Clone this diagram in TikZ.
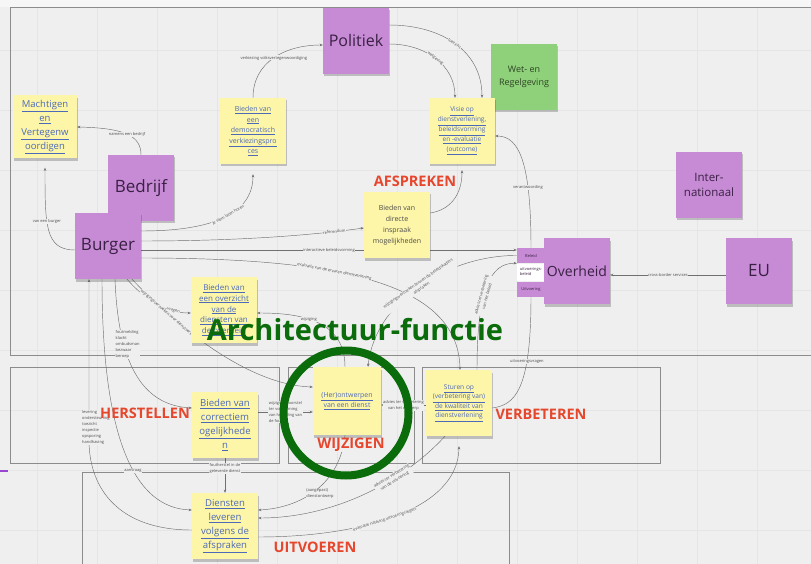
\documentclass[tikz,border=0pt]{standalone}
\usepackage{fontspec}
\setmainfont{Open Sans}
\usetikzlibrary{shadows,arrows.meta}

\definecolor{bgc}{HTML}{EFEFEF}
\definecolor{topc}{HTML}{F6F6F6}
\definecolor{gridc}{HTML}{E5E5E5}
\definecolor{boxc}{HTML}{8C8C8C}
\definecolor{yel}{HTML}{FDF5A8}
\definecolor{purp}{HTML}{C78BD5}
\definecolor{grn}{HTML}{8FD07B}
\definecolor{lnk}{HTML}{4C6AB8}
\definecolor{redl}{HTML}{E6462C}
\definecolor{dgreen}{HTML}{0A6C0A}
\definecolor{edgec}{HTML}{707070}
\definecolor{darkp}{HTML}{3A2044}
\definecolor{darkg}{HTML}{2E4424}
\definecolor{violet}{HTML}{9A45D0}

\newcommand\ulink[1]{\underline{#1}}

\pgfdeclarelayer{bg}
\pgfdeclarelayer{edges}
\pgfsetlayers{bg,edges,main}

\tikzset{
  sticky/.style={minimum width=66pt, minimum height=66pt, inner sep=1pt, align=center,
    drop shadow={shadow xshift=0.5pt, shadow yshift=-2.5pt, opacity=0.3, fill=black!70}},
  ynote/.style={sticky, fill=yel},
  lnote/.style={ynote, text=lnk},
  pnote/.style={sticky, fill=purp, text=darkp},
  tab/.style={minimum width=28pt, minimum height=15pt, inner sep=0pt,
    font=\fontsize{4}{5}\selectfont, text=darkp},
  conn/.style={draw=edgec, line width=0.45pt, -{Stealth[length=3.2pt,width=2.6pt]}},
  plainconn/.style={draw=edgec, line width=0.45pt},
  lbl/.style={font=\fontsize{4}{6}\selectfont, text=black!70, fill=bgc, inner sep=0.5pt},
  phasel/.style={font=\fontsize{14.5}{16}\selectfont\bfseries, text=redl, inner sep=0pt},
  boxline/.style={draw=boxc, line width=0.5pt}
}

\begin{document}
\begin{tikzpicture}[x=1pt,y=-1pt]
\useasboundingbox (0,0) rectangle (811,564);

% canvas, grid and phase frames
\begin{pgfonlayer}{bg}
  \fill[bgc] (0,0) rectangle (811,564);
  \fill[topc] (0,0) rectangle (811,7);
  \foreach \gx in {37,97,...,811} \draw[gridc, line width=0.5pt] (\gx,7) -- (\gx,564);
  \foreach \gy in {50,110,...,564} \draw[gridc, line width=0.5pt] (0,\gy) -- (811,\gy);
  \draw[boxline] (815,7) -- (10,7) -- (10,355) -- (815,355);
  \draw[boxline] (10,367) rectangle (279,463);
  \draw[boxline] (288,367) rectangle (414,463);
  \draw[boxline] (422,367) rectangle (660,463);
  \draw[boxline] (82,472) rectangle (509,570);
  \draw[violet, line width=1.2pt] (0,471) -- (8,471);
\end{pgfonlayer}

% actors
\node[pnote, font=\fontsize{16}{18}\selectfont] (pol) at (356,41) {Politiek};
\node[sticky, fill=grn, text=darkg, font=\fontsize{9}{12.5}\selectfont] (wet) at (524,77) {Wet- en\\Regelgeving};
\node[pnote, font=\fontsize{11.5}{14.5}\selectfont] (intl) at (709,185) {Inter-\\nationaal};
\node[tab, fill=purp] (bel) at (531,255.5) {Beleid};
\node[tab, fill=white, minimum height=17pt, align=left] (ub) at (531,272) {uitvoerings-\\beleid};
\node[tab, fill=purp] (uitv) at (531,289.5) {Uitvoering};
\node[pnote, font=\fontsize{14}{18}\selectfont] (ovh) at (577,271) {Overheid};
\node[pnote, font=\fontsize{17}{18}\selectfont] (eu) at (759,271) {EU};
\node[pnote, font=\fontsize{17}{18}\selectfont] (bedr) at (141,188) {Bedrijf};
\node[pnote, font=\fontsize{17}{18}\selectfont] (burg) at (108,246) {Burger};

% functions
\node[lnote, minimum width=64pt, minimum height=63pt, font=\fontsize{9.5}{14}\selectfont] (macht) at (45,127)
  {\ulink{Machtigen}\\\ulink{en}\\\ulink{Vertegenw}\\\ulink{oordigen}};
\node[lnote, font=\fontsize{7}{10.5}\selectfont] (demo) at (253,131)
  {\ulink{Bieden van}\\\ulink{een}\\\ulink{democratisch}\\\ulink{verkiezingspro}\\\ulink{ces}};
\node[lnote, font=\fontsize{6.5}{10}\selectfont] (visie) at (462,131)
  {\ulink{Visie op}\\\ulink{dienstverlening,}\\\ulink{beleidsvorming}\\\ulink{en -evaluatie}\\\ulink{(outcome)}};
\node[ynote, text=black!70, font=\fontsize{7}{11}\selectfont] (insp) at (397,225)
  {Bieden van\\directe\\inspraak\\mogelijkheden};
\node[lnote, font=\fontsize{8}{10.8}\selectfont] (overz) at (224,310)
  {\ulink{Bieden van}\\\ulink{een overzicht}\\\ulink{van de}\\\ulink{diensten van}\\\ulink{de overheid}};
\node[lnote, minimum width=68pt, minimum height=68pt, font=\fontsize{6.9}{10}\selectfont] (herontw) at (347,401)
  {\ulink{(Her)ontwerpen}\\\ulink{van een dienst}};
\node[lnote, font=\fontsize{6.6}{9.5}\selectfont] (sturen) at (459,403)
  {\ulink{Sturen op}\\\ulink{(verbetering van)}\\\ulink{de kwaliteit van}\\\ulink{dienstverlening}};
\node[lnote, font=\fontsize{9.6}{14}\selectfont] (corr) at (225,425)
  {\ulink{Bieden van}\\\ulink{correctiem}\\\ulink{ogelijkhede}\\\ulink{n}};
\node[lnote, font=\fontsize{9.6}{14}\selectfont] (dienst) at (225,526)
  {\ulink{Diensten}\\\ulink{leveren}\\\ulink{volgens de}\\\ulink{afspraken}};

% phase titles
\node[phasel] (afs) at (415,181) {AFSPREKEN};
\node[phasel] (her) at (145,413) {HERSTELLEN};
\node[phasel, fill=bgc] (wijz) at (351,445) {WIJZIGEN};
\node[phasel] (verb) at (541,414) {VERBETEREN};
\node[phasel] (uitvo) at (315,547) {UITVOEREN};

% connectors
\begin{pgfonlayer}{edges}
  \draw[conn] (demo.north) .. controls (253,62) and (285,45) .. ([yshift=-4pt]pol.west)
    node[lbl, pos=0.5] {verkiezing volksvertegenwoordiging};
  \draw[conn] ([yshift=-3pt]pol.east) .. controls (425,44) and (455,65) .. ([xshift=-7pt]visie.north)
    node[lbl, pos=0.5, sloped] {wetgeving};
  \draw[conn] ([yshift=16pt]pol.east) .. controls (440,25) and (482,50) .. ([xshift=20pt]visie.north)
    node[lbl, pos=0.5, sloped] {toezicht};
  \draw[conn] (bel.north) .. controls (531,165) and (520,136) .. ([yshift=-5pt]visie.east)
    node[lbl, pos=0.3] {verantwoording};
  \draw[conn] ([yshift=12pt]insp.east) .. controls (450,210) and (462,195) .. ([yshift=-6pt]visie.south);
  \draw[conn] (bedr.north) .. controls (141,136) and (125,128) .. (macht.east)
    node[lbl, pos=0.5] {namens een bedrijf};
  \draw[conn] ([yshift=-4pt]burg.west) .. controls (45,250) and (45,225) .. ([yshift=-9pt]macht.south)
    node[lbl, pos=0.6] {van een burger};
  \draw[conn] ([yshift=15pt]burg.east) .. controls (210,231) and (253,215) .. ([yshift=-10pt]demo.south)
    node[lbl, pos=0.55, sloped] {je stem laten horen};
  \draw[conn] ([yshift=5pt]burg.east) .. controls (250,241) and (320,234) .. ([yshift=-3pt]insp.west)
    node[lbl, pos=0.8, sloped] {referendum};
  \draw[conn] ([yshift=-4pt]burg.east) -- ([yshift=5.5pt]bel.west)
    node[lbl, pos=0.5] {interactieve beleidsvorming};
  \draw[conn] ([yshift=-12pt]burg.east) .. controls (330,258) and (458,280) .. ([xshift=1pt]sturen.north)
    node[lbl, pos=0.4, sloped] {evaluatie van de ervaren dienstverlening};
  \draw[conn] (bel.west) .. controls (450,255) and (375,300) .. ([xshift=21pt]herontw.north)
    node[lbl, pos=0.5, sloped, align=center] {wijzigingsverzoeken binnen de beleidskaders\\afspraken};
  \draw[conn] ([xshift=18pt]sturen.north) .. controls (477,290) and (490,263) .. (bel.south west)
    node[lbl, pos=0.42, sloped, align=center] {advies ter verbetering\\van het beleid};
  \draw[plainconn] (uitv.south) .. controls (531,390) and (515,405) .. ([yshift=-5pt]sturen.east)
    node[lbl, pos=0.3] {uitvoeringsvragen};
  \draw[conn] ([yshift=-4pt]dienst.west) .. controls (120,530) and (89,490) .. (89,440)
    -- ([xshift=-19pt]burg.south)
    node[lbl, align=left, anchor=north west] at (81.5,410)
      {levering\\ondersteuning\\toezicht\\inspectie\\opsporing\\handhaving};
  \draw[conn] ([xshift=-6pt]burg.south) .. controls (102,440) and (135,508) .. ([yshift=16pt]dienst.west)
    node[lbl] at (133,471) {aanvraag};
  \draw[conn] ([xshift=7pt]burg.south) .. controls (118,360) and (140,405) .. ([yshift=17pt]corr.west)
    node[lbl, align=left, anchor=north west] at (115,330)
      {foutmelding\\klacht\\ombudsman\\bezwaar\\beroep};
  \draw[conn] ([xshift=19pt]burg.south) .. controls (150,305) and (170,313) .. ([yshift=-3pt]overz.west)
    node[lbl, pos=0.72, sloped] {vragen};
  \draw[conn] ([xshift=24pt]burg.south) .. controls (180,330) and (250,385) .. ([yshift=14pt]herontw.west)
    node[lbl, pos=0.24, sloped] {wijzigingsverzoeken voor dienstverlening};
  \draw[conn] ([xshift=-2pt]herontw.north) .. controls (345,320) and (300,313) .. ([yshift=-3pt]overz.east)
    node[lbl, pos=0.58] {wijziging};
  \draw[conn] ([yshift=13pt]corr.east) -- ([yshift=-11pt]herontw.west)
    node[lbl, pos=0.5, align=left] {wijzigingsvoorstel\\ter voorkoming\\van herhaling van\\de fout};
  \draw[conn] ([yshift=-2pt]sturen.west) -- ([yshift=-4pt]herontw.east)
    node[lbl, pos=0.5, align=center] {advies ter verbetering\\van het ontwerp};
  \draw[conn] (corr.south) -- (dienst.north)
    node[lbl, pos=0.3, align=center] {foutherstel in de\\geleverde dienst};
  \draw[conn] ([xshift=-2pt]herontw.south) .. controls (340,485) and (300,508) .. ([yshift=16pt]dienst.east)
    node[lbl, align=left] at (320,494) {(aangepast)\\dienstontwerp};
  \draw[conn] ([xshift=-14pt]sturen.south) .. controls (400,485) and (330,518) .. ([yshift=8pt]dienst.east)
    node[lbl, pos=0.33, sloped, align=center] {advies ter verbetering\\van de uitvoering};
  \draw[conn] ([yshift=-11pt]dienst.east) .. controls (360,537) and (458,510) .. ([yshift=-10pt]sturen.south)
    node[lbl, pos=0.45, sloped] {evaluatie naleving uitvoeringsregels};
  \draw[conn] ([yshift=-4pt]eu.west) -- ([yshift=-4pt]ovh.east)
    node[lbl, pos=0.5] {cross-border services};
\end{pgfonlayer}

% architecture highlight
\node[font=\fontsize{29}{32}\selectfont\bfseries, text=dgreen, inner sep=0pt] (arch) at (355,330) {Architectuur-functie};
\node[draw=dgreen, line width=8pt, circle, minimum size=125pt, inner sep=0pt] (ring) at (346,413) {};
\end{tikzpicture}
\end{document}
